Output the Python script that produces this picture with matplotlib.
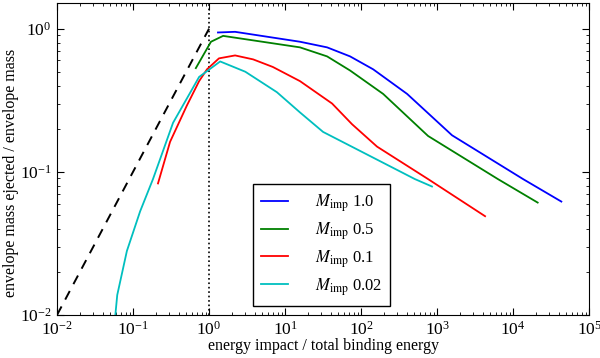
import numpy as np
import matplotlib
matplotlib.use("Agg")
import matplotlib.pyplot as plt

plt.rcParams['font.family'] = ['Liberation Serif', 'DejaVu Serif']
plt.rcParams['mathtext.fontset'] = 'stix'
plt.rcParams['font.size'] = 11.5

x_blue = [1.31, 2.2, 15.7, 35.7, 71.6, 144, 403, 1570, 13500, 43000]
y_blue = [0.94, 0.95, 0.81, 0.74, 0.64, 0.52, 0.35, 0.18, 0.089, 0.062]

x_green = [0.67, 1.06, 1.53, 15.7, 35.7, 71.6, 195, 760, 6300, 21000]
y_green = [0.53, 0.81, 0.89, 0.74, 0.64, 0.51, 0.35, 0.178, 0.089, 0.061]

x_red = [0.213, 0.307, 0.51, 0.74, 0.94, 1.35, 2.2, 3.8, 6.9, 15.7, 41.5, 76, 162, 760, 4270]
y_red = [0.083, 0.162, 0.29, 0.43, 0.52, 0.62, 0.65, 0.61, 0.54, 0.43, 0.30, 0.215, 0.15, 0.089, 0.049]

x_cyan = [0.058, 0.062, 0.083, 0.124, 0.183, 0.336, 0.74, 1.4, 3.0, 7.8, 15.7, 31.6, 510, 855]
y_cyan = [0.0095, 0.0138, 0.028, 0.053, 0.089, 0.22, 0.46, 0.59, 0.50, 0.36, 0.26, 0.19, 0.089, 0.079]

labels = ['1.0', '0.5', '0.1', '0.02']

fig = plt.figure(figsize=(6, 3.58), dpi=100)
ax = fig.add_axes([0.095, 0.12, 0.887, 0.8716])

ax.plot([0.01, 1], [0.01, 1], 'k', ls=(0, (5, 4)), lw=1.4)
ax.axvline(1, color='k', ls=':', lw=1.2)

ax.plot(x_blue, y_blue, color='b', lw=1.3, label=r'$M_{\rm imp}$ ' + labels[0])
ax.plot(x_green, y_green, color='g', lw=1.3, label=r'$M_{\rm imp}$ ' + labels[1])
ax.plot(x_red, y_red, color='r', lw=1.3, label=r'$M_{\rm imp}$ ' + labels[2])
ax.plot(x_cyan, y_cyan, color='c', lw=1.3, label=r'$M_{\rm imp}$ ' + labels[3])

ax.set_xscale('log')
ax.set_yscale('log')
ax.set_xlim(1e-2, 1e5)
ax.set_ylim(1e-2, 1.51)

ax.tick_params(which='both', direction='in', top=True, right=True, labelsize=12.5)
ax.tick_params(which='major', length=5, pad=4)
ax.tick_params(which='minor', length=2.5)

ax.set_xlabel('energy impact / total binding energy', labelpad=0)
ax.set_ylabel('envelope mass ejected / envelope mass')
ax.yaxis.set_label_coords(-0.071, 0.455)

leg = ax.legend(loc='lower left', bbox_to_anchor=(0.368, 0.029), fontsize=12,
                fancybox=False, framealpha=1, edgecolor='k', labelspacing=0.38,
                handlelength=1.6, handletextpad=1.6, borderpad=0.5,
                borderaxespad=0)
leg.get_frame().set_linewidth(1.0)

fig.savefig('out.png', dpi=100)
